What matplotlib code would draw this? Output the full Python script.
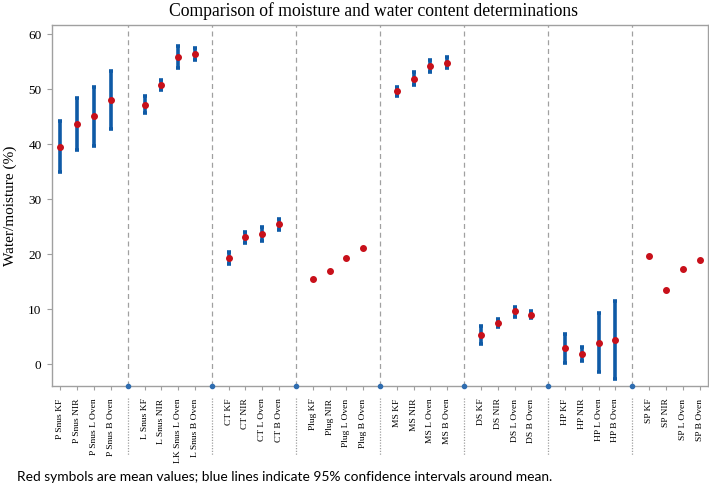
import numpy as np
import matplotlib
matplotlib.use("Agg")
import matplotlib.pyplot as plt

groups = [
    ["P Snus KF", "P Snus NIR", "P Snus L Oven", "P Snus B Oven"],
    ["L Snus KF", "L Snus NIR", "LK Snus L Oven", "L Snus B Oven"],
    ["CT KF", "CT NIR", "CT L Oven", "CT B Oven"],
    ["Plug KF", "Plug NIR", "Plug L Oven", "Plug B Oven"],
    ["MS KF", "MS NIR", "MS L Oven", "MS B Oven"],
    ["DS KF", "DS NIR", "DS L Oven", "DS B Oven"],
    ["HP KF", "HP NIR", "HP L Oven", "HP B Oven"],
    ["SP KF", "SP NIR", "SP L Oven", "SP B Oven"],
]
means = [
    [39.5, 43.7, 45.1, 48.05],
    [47.1, 50.8, 55.9, 56.5],
    [19.3, 23.1, 23.7, 25.4],
    [15.4, 16.9, 19.3, 21.2],
    [49.7, 51.9, 54.2, 54.8],
    [5.3, 7.5, 9.6, 9.0],
    [2.9, 1.9, 3.9, 4.4],
    [19.7, 13.4, 17.3, 18.9],
]
nan = np.nan
ci_low = [
    [34.9, 39.0, 39.7, 42.7],
    [45.6, 49.8, 53.8, 55.4],
    [18.2, 22.0, 22.4, 24.4],
    [nan, nan, nan, nan],
    [48.8, 50.8, 53.1, 53.8],
    [3.6, 6.8, 8.5, 8.4],
    [0.2, 0.5, -1.5, -2.7],
    [nan, nan, nan, nan],
]
ci_high = [
    [44.2, 48.4, 50.5, 53.3],
    [48.7, 51.6, 57.9, 57.6],
    [20.4, 24.1, 25.0, 26.4],
    [nan, nan, nan, nan],
    [50.5, 53.1, 55.3, 55.8],
    [7.0, 8.2, 10.4, 9.6],
    [5.5, 3.1, 9.2, 11.5],
    [nan, nan, nan, nan],
]
y_ticks = [0, 10, 20, 30, 40, 50, 60]

serif = ["Liberation Serif", "DejaVu Serif"]
gray = "#a0a0a0"
blue = "#0f5aa6"
red = "#c8101a"

fig = plt.figure(figsize=(7.09, 4.86), dpi=100)
ax = fig.add_axes([52 / 709, 100 / 486, 656 / 709, 361 / 486])

labels, xs, m, lo, hi = [], [], [], [], []
n_per = 5
for g, names in enumerate(groups):
    for i, name in enumerate(names):
        labels.append(name)
        xs.append(g * n_per + i)
        m.append(means[g][i])
        lo.append(ci_low[g][i])
        hi.append(ci_high[g][i])
xs = np.array(xs, float)
m = np.array(m)
lo = np.array(lo)
hi = np.array(hi)
seps = [g * n_per + 4 for g in range(len(groups) - 1)]

has_ci = ~np.isnan(lo)
ax.errorbar(xs[has_ci], m[has_ci],
            yerr=[m[has_ci] - lo[has_ci], hi[has_ci] - m[has_ci]],
            fmt="none", ecolor=blue, elinewidth=2.6, capsize=1.6, capthick=2.6, zorder=2)
ax.plot(xs, m, "o", color=red, ms=4.0, mec=red, zorder=3, linestyle="none")

for s in seps:
    ax.axvline(s, color=gray, ls=(0, (4, 3)), lw=0.9, zorder=1)
ax.plot(seps, [-4] * len(seps), "o", color="#2f6db0", ms=3, clip_on=False, zorder=4)
for s in seps:
    ax.plot([s, s], [-0.033, -0.19], transform=ax.get_xaxis_transform(),
            color=gray, ls=(0, (1, 1.2)), lw=0.9, clip_on=False)

ax.set_xlim(-0.5, xs[-1] + 0.5)
ax.set_ylim(-4, 61.7)
ax.set_yticks(y_ticks)
ax.set_yticklabels([str(t) for t in y_ticks], family=serif, fontsize=9.5)
ax.set_xticks(xs)
ax.set_xticklabels(labels, rotation=90, family=serif, fontsize=6.8, va="top", ha="center")
ax.tick_params(axis="x", length=3, color=gray, pad=6)
ax.tick_params(axis="y", length=3.5, color=gray, pad=4)
for sp in ax.spines.values():
    sp.set_color(gray)
    sp.set_linewidth(1.0)

ax.set_ylabel("Water/moisture (%)", family=serif, fontsize=11, labelpad=8)
fig.text(374 / 709, 1 - 11 / 486, "Comparison of moisture and water content determinations",
         family=serif, fontsize=12.7, ha="center", va="center")
fig.text(17 / 709, 1 - 477 / 486,
         "Red symbols are mean values; blue lines indicate 95% confidence intervals around mean.",
         family=["Lato", "DejaVu Sans"], fontsize=9.95, ha="left", va="center")

fig.savefig("out.png", dpi=100)
